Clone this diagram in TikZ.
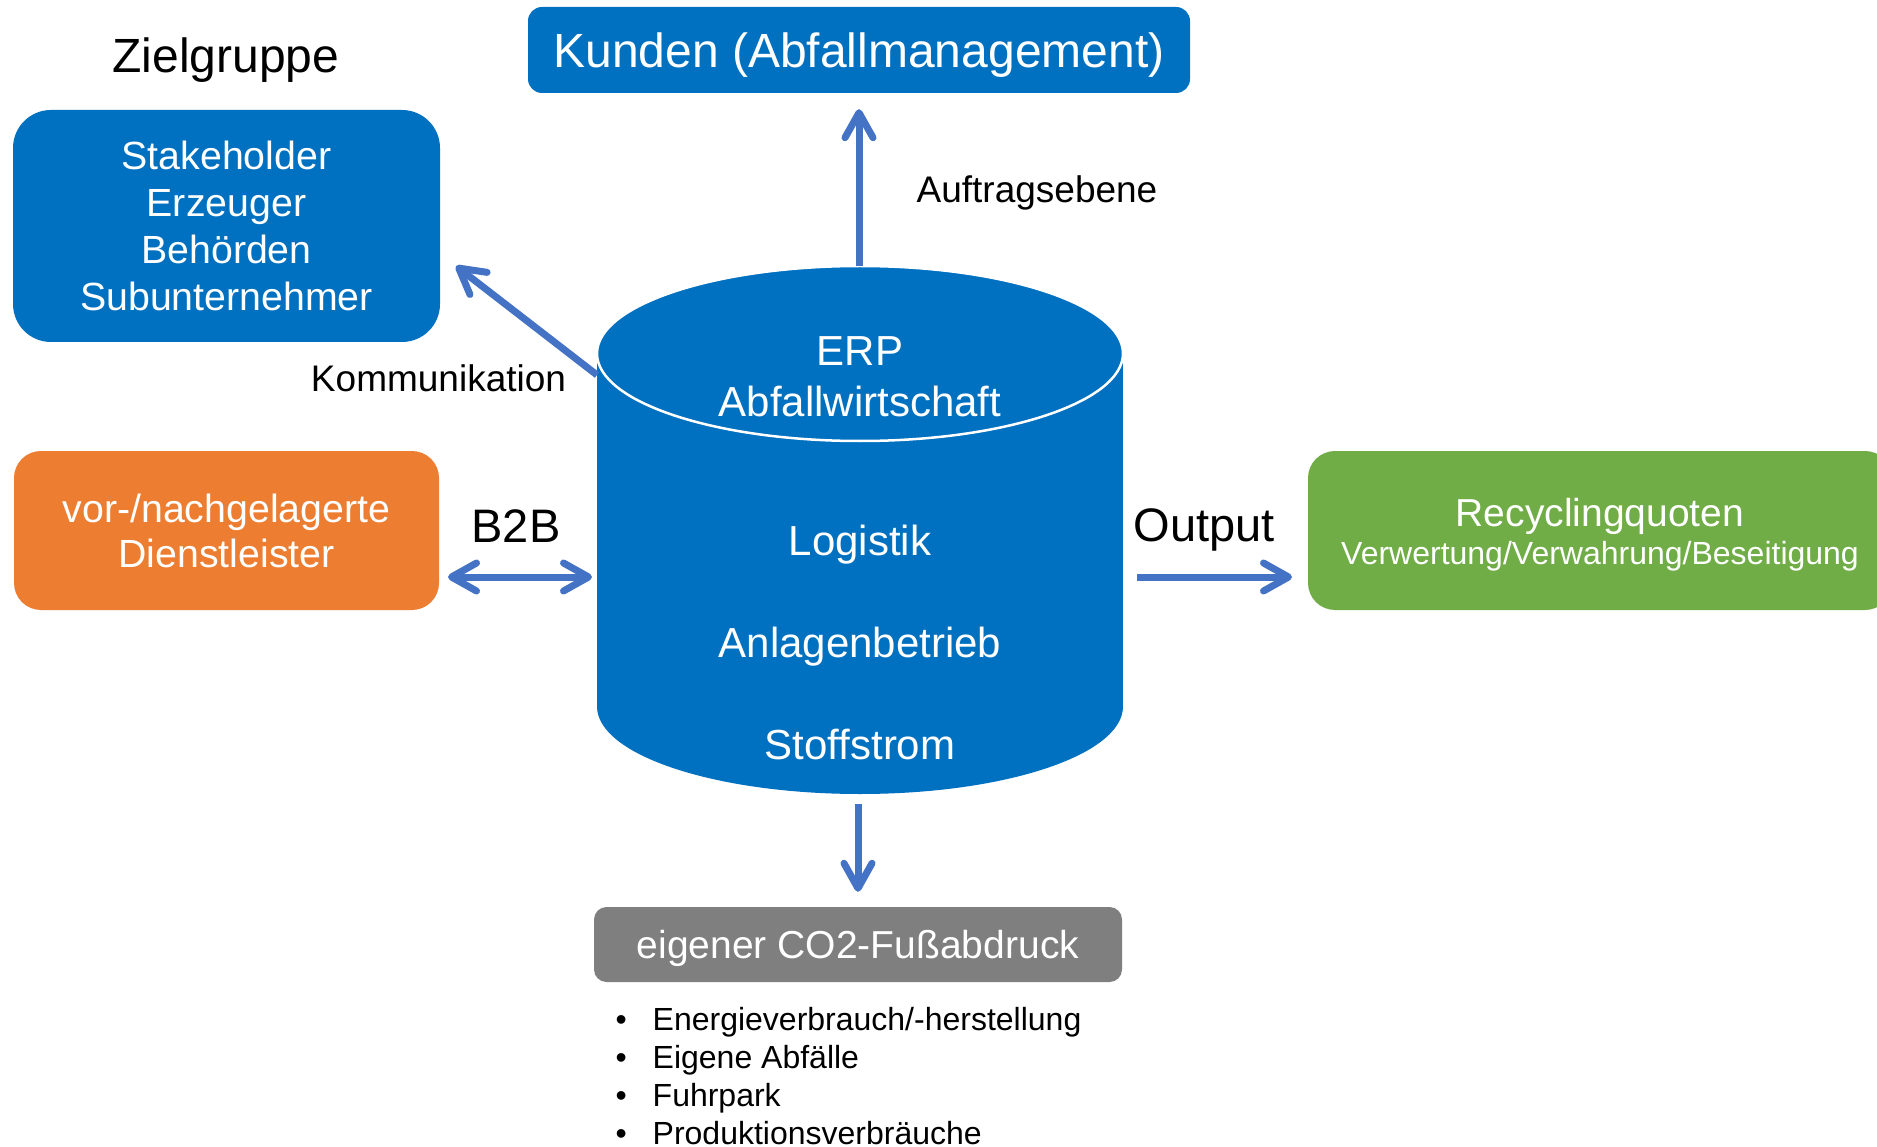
\documentclass[tikz,border=0pt]{standalone}
\usepackage{fontspec}
\setmainfont{Liberation Sans}
\usetikzlibrary{arrows.meta}
\definecolor{boxblue}{HTML}{0070C0}
\definecolor{boxorange}{HTML}{ED7D31}
\definecolor{boxgreen}{HTML}{70AD47}
\definecolor{boxgrey}{HTML}{7F7F7F}
\definecolor{arrowblue}{HTML}{4472C4}
\newcommand{\fsz}[2]{\fontsize{#1}{#2}\selectfont}
\begin{document}
\begin{tikzpicture}[x=1pt,y=-1pt,
  box/.style={rectangle, inner sep=0pt, text=white, align=center},
  lbl/.style={inner sep=0pt, text=black, anchor=base},
  cyltext/.style={inner sep=0pt, text=white, anchor=base, font=\fsz{42}{50}},
  conn/.style={draw=arrowblue, line width=7pt},
  chev/.tip={Straight Barb[length=25pt,width=28pt,round]},
]
\clip (0,0) rectangle (1877,1147);
\fill[white] (0,0) rectangle (1877,1147);

% boxes
\node[box, fill=boxblue, rounded corners=14pt, minimum width=662pt, minimum height=86pt,
      text height=35pt, text depth=0pt, font=\fsz{48}{58}] (kunden) at (859,50) {Kunden (Abfallmanagement)};
\node[box, fill=boxblue, rounded corners=38pt, minimum width=427pt, minimum height=232pt,
      font=\fsz{39.3}{46.7}] (stake) at (226.5,226) {Stakeholder\\Erzeuger\\Behörden\\Subunternehmer};
\node[box, fill=boxorange, rounded corners=27pt, minimum width=425pt, minimum height=159pt,
      font=\fsz{39.3}{45}] (dienst) at (226.5,530.5) {vor-/nachgelagerte\\Dienstleister};
\node[box, fill=boxgreen, rounded corners=27pt, minimum width=584pt, minimum height=159pt,
      font=\fsz{39}{38}] (recyc) at (1600,530.5) {\rule{0pt}{37.5pt}Recyclingquoten\\{\fsz{32}{38}Verwertung/Verwahrung/Beseitigung}};
\node[box, fill=boxgrey, rounded corners=12.5pt, minimum width=528pt, minimum height=75pt,
      text height=28pt, text depth=0pt, font=\fsz{39}{47}] (co2) at (858,944.5) {eigener CO2-Fußabdruck};

% cylinder
\fill[boxblue] (597,353.5) rectangle (1123,706.5);
\fill[boxblue] (860,706.5) ellipse [x radius=263, y radius=87.5];
\draw[white, line width=2.5pt, fill=boxblue] (860,353.5) ellipse [x radius=263, y radius=87.5];
\node[cyltext] (erp) at (860,366) {ERP};
\node[cyltext] (abf) at (860,417) {Abfallwirtschaft};
\node[cyltext] (log) at (860,555) {Logistik};
\node[cyltext] (anl) at (860,657) {Anlagenbetrieb};
\node[cyltext] (stoff) at (860,759) {Stoffstrom};

% labels
\node[lbl, font=\fsz{48}{58}] (ziel) at (226,73) {Zielgruppe};
\node[lbl, font=\fsz{37}{44}] (komm) at (438.5,392) {Kommunikation};
\node[lbl, font=\fsz{37}{44}] (auftrag) at (1037,203) {Auftragsebene};
\node[lbl, font=\fsz{47}{56}] (b2b) at (516,542) {B2B};
\node[lbl, font=\fsz{47}{56}] (output) at (1204,541) {Output};

\node[anchor=north west, inner sep=0pt, align=left, font=\fsz{32}{38}] (list) at (615.5,1007)
  {\makebox[37pt][l]{•}Energieverbrauch/-herstellung\\
   \makebox[37pt][l]{•}Eigene Abfälle\\
   \makebox[37pt][l]{•}Fuhrpark\\
   \makebox[37pt][l]{•}Produktionsverbräuche};

% connector ends
\coordinate (cTop) at (859,266);
\coordinate (cLeftUp) at (597,375);
\coordinate (stakeTip) at (456,266);
\coordinate (b2bL) at (448,577);
\coordinate (b2bR) at (592,577);
\coordinate (outS) at (1137,577);
\coordinate (outT) at (1292,577);
\coordinate (cBot) at (858,804);

% connectors
\draw[conn, -{chev}, shorten >=16pt] (cTop) -- (kunden.south);
\draw[conn, -{chev}] (cLeftUp) -- (stakeTip);
\draw[conn, {chev}-{chev}] (b2bL) -- (b2bR);
\draw[conn, -{chev}] (outS) -- (outT);
\draw[conn, -{chev}, shorten >=15pt] (cBot) -- (co2.north);
\end{tikzpicture}
\end{document}
